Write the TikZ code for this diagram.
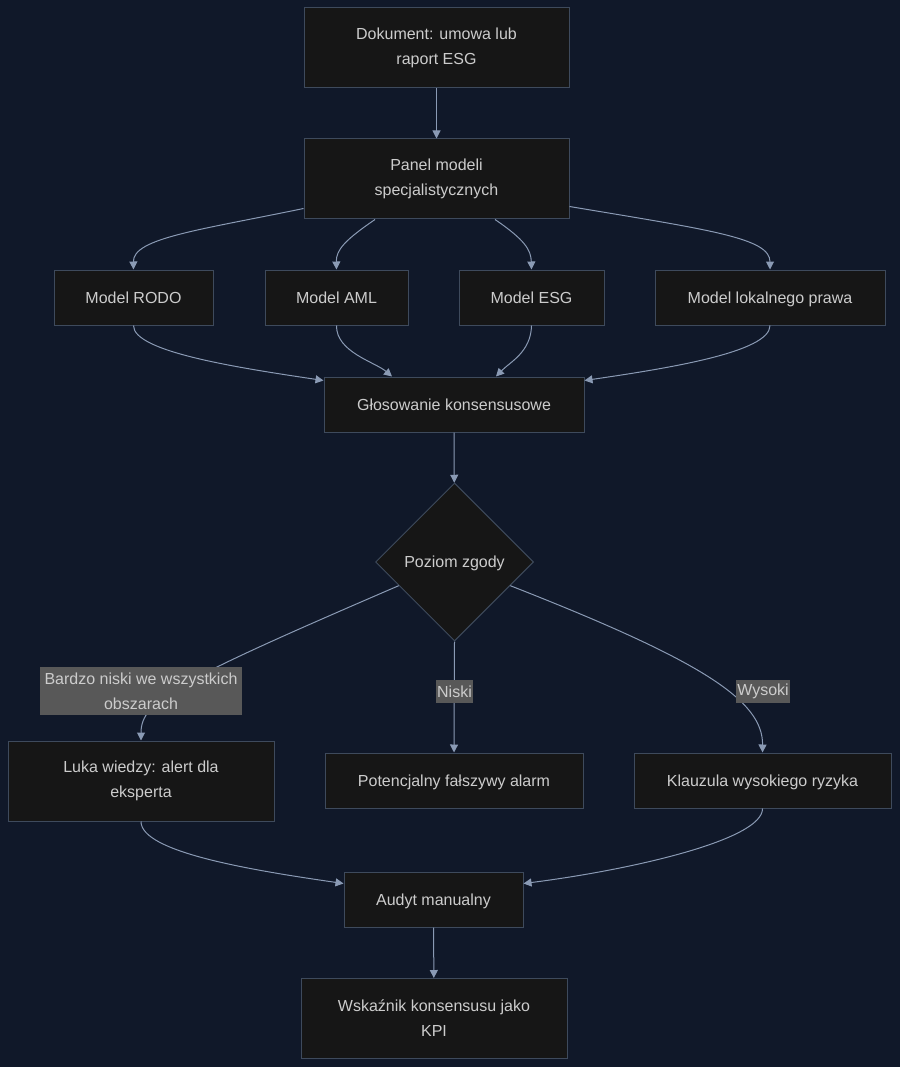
\documentclass[tikz,border=0pt]{standalone}
\usepackage{fontspec}
\setmainfont{Liberation Sans}
\definecolor{rnavy}{RGB}{16,24,41}
\definecolor{rbox}{RGB}{22,22,22}
\definecolor{rborder}{RGB}{62,74,92}
\definecolor{rtext}{RGB}{204,204,204}
\definecolor{rline}{RGB}{138,154,180}
\definecolor{rlabel}{RGB}{88,88,88}
\usetikzlibrary{arrows.meta,positioning,shapes.geometric,calc}

\begin{document}
\begin{tikzpicture}[x=1pt,y=-1pt,
  ragbox/.style={draw=rborder,fill=rbox,text=rtext,line width=1pt,align=center,
    font=\fontsize{16pt}{25pt}\selectfont,inner sep=0pt,minimum height=55pt,
    text height=14.5pt,text depth=3.5pt},
  ragtall/.style={ragbox,minimum height=80pt,text height=,text depth=},
  ragdec/.style={diamond,draw=rborder,fill=rbox,text=rtext,line width=1pt,
    font=\fontsize{16pt}{25pt}\selectfont,inner sep=0pt,minimum width=158pt,minimum height=158pt,
    text height=14.5pt,text depth=3.5pt},
  raglabel/.style={fill=rlabel,text=rtext,align=center,inner xsep=1.5pt,inner ysep=0pt,
    minimum height=23pt,font=\fontsize{16pt}{25pt}\selectfont},
  ragflow/.style={draw=rline,line width=1pt,-{Triangle[length=8pt,width=8pt]}}
]
  % background
  \fill[rnavy] (0,0) rectangle (900,1067);
  \useasboundingbox (0,0) rectangle (900,1067);

  % Input and panel
  \node[ragtall,minimum width=265pt] (doc) at (436.5,48) {Dokument: umowa lub\\raport ESG};
  \node[ragtall,minimum width=265pt] (panel) at (436.5,179) {Panel modeli\\specjalistycznych};

  % Specialist models
  \node[ragbox,minimum width=159pt] (rodo) at (133.5,297.5) {Model RODO};
  \node[ragbox,minimum width=143pt] (aml) at (336.5,297.5) {Model AML};
  \node[ragbox,minimum width=145pt] (esg) at (531.5,297.5) {Model ESG};
  \node[ragbox,minimum width=230pt] (lokal) at (770,297.5) {Model lokalnego prawa};

  % Voting and decision
  \node[ragbox,minimum width=260pt] (vote) at (454,404.5) {Głosowanie konsensusowe};
  \node[ragdec] (zgoda) at (454.5,562) {Poziom zgody};

  % Outcomes
  \node[ragtall,minimum width=266pt] (luka) at (141,781) {Luka wiedzy: alert dla\\eksperta};
  \node[ragbox,minimum width=258pt] (alarm) at (454,780.5) {Potencjalny fałszywy alarm};
  \node[ragbox,minimum width=257pt] (klauz) at (762.5,780.5) {Klauzula wysokiego ryzyka};

  % Audit and KPI
  \node[ragbox,minimum width=179pt] (audyt) at (433.5,899.5) {Audyt manualny};
  \node[ragtall,minimum width=266pt] (kpi) at (434,1018.5) {Wskaźnik konsensusu jako\\KPI};

  % Connectors
  \draw[ragflow] (doc.south) -- (panel.north);
  \draw[ragflow] ([yshift=11pt]panel.south west) .. controls (200,230) and (133,238) .. (rodo.north);
  \draw[ragflow] ([xshift=-61.5pt]panel.south) .. controls (345,240) and (336,250) .. (aml.north);
  \draw[ragflow] ([xshift=58.5pt]panel.south) .. controls (525,240) and (531,250) .. (esg.north);
  \draw[ragflow] ([yshift=13pt]panel.south east) .. controls (710,230) and (770,238) .. (lokal.north);

  \draw[ragflow] (rodo.south) .. controls (133,352) and (240,368) .. ([yshift=-4pt]vote.north west);
  \draw[ragflow] (aml.south) .. controls (336,352) and (375,362) .. ([xshift=-62pt]vote.north);
  \draw[ragflow] (esg.south) .. controls (531,352) and (510,362) .. ([xshift=42pt]vote.north);
  \draw[ragflow] (lokal.south) .. controls (770,352) and (670,368) .. ([yshift=-4pt]vote.north east);

  \draw[ragflow] (vote) -- (zgoda);

  \draw[ragflow] (zgoda.203) .. controls (180,680) and (141,700) .. (luka.north);
  \draw[ragflow] (zgoda.south) -- (alarm.north);
  \draw[ragflow] (zgoda.-23) .. controls (700,660) and (763,700) .. (klauz.north);

  % Edge labels
  \node[raglabel,minimum height=48pt,inner xsep=5pt] (lbllow) at (141,691) {Bardzo niski we wszystkich\\obszarach};
  \node[raglabel] (lblniski) at (454.5,691.5) {Niski};
  \node[raglabel] (lblhigh) at (763,691.5) {Wysoki};

  \draw[ragflow] (luka.south) .. controls (141,852) and (250,870) .. ([yshift=-12pt]audyt.north west);
  \draw[ragflow] (klauz.south) .. controls (763,840) and (630,870) .. ([yshift=-12pt]audyt.north east);
  \draw[ragflow] (audyt) -- (kpi);
\end{tikzpicture}
\end{document}
